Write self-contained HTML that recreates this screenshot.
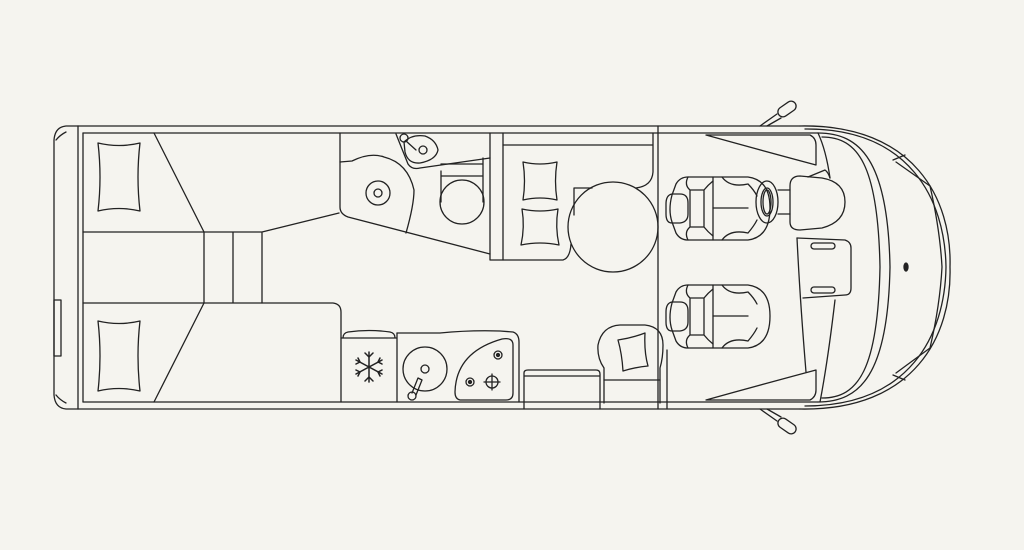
<!DOCTYPE html>
<html><head><meta charset="utf-8"><style>
html,body{margin:0;padding:0;background:#f5f4ef;}
svg{display:block}
</style></head><body>
<svg width="1024" height="550" viewBox="0 0 1024 550" xmlns="http://www.w3.org/2000/svg" fill="none" stroke="#222" stroke-width="1.3" stroke-linejoin="round" stroke-linecap="round">
<rect width="1024" height="550" fill="#f5f4ef" stroke="none"/>
<!-- body -->
<path d="M78,126 L800,126 M78,409 L800,409"/>
<path d="M83,133 L818,133 M83,402 L818,402"/>
<path d="M78,126 L78,409 M83,133 L83,402"/>
<path d="M78,126 L66,126 Q55,127 54,140 L54,395 Q55,408 66,409 L78,409"/>
<path d="M56,140 Q60,135 66,132 M56,395 Q60,400 66,403"/>
<rect x="54" y="300" width="7" height="56"/>
<!-- rear bed -->
<path d="M83,232 L204,232 M83,303 L204,303"/>
<path d="M154,133 L204,232 L204,303 L154,402"/>
<path d="M204,232 L262,232 L339,213 M204,303 L262,303 M233,232 L233,303 M262,232 L262,303"/>
<path d="M262,303 L333,303 Q341,304 341,312 L341,402"/>
<path d="M98,143 Q119,148 140,143 Q136,177 140,211 Q119,206 98,211 Q102,177 98,143Z"/>
<path d="M98,321 Q119,326 140,321 Q136,356 140,391 Q119,386 98,391 Q102,356 98,321Z"/>
<!-- bathroom -->
<path d="M340,133 L340,207 Q340,214 348,217 L490,254"/>
<path d="M340,162 L352,161 Q370,152 384,157 Q408,163 414,190 Q414,205 406,233"/>
<circle cx="378" cy="193" r="12"/><circle cx="378" cy="193" r="4"/>
<path d="M396,134 L408,164 Q412,170 420,168 L490,158"/>
<path d="M404,142 Q412,134 425,136 Q436,140 438,150 Q436,160 420,163 Q408,164 405,152 Z"/>
<circle cx="404" cy="138" r="4"/><path d="M406,141 L416,150"/><circle cx="423" cy="150" r="4"/>
<path d="M441,171 L441,202 M483,158 L483,202 M441,164 L483,164 M441,176 L483,176"/>
<circle cx="462" cy="202" r="22"/>
<path d="M490,133 L490,260 L563,260 Q570,258 571,244"/>
<path d="M503,133 L503,260"/>
<!-- dinette -->
<path d="M503,145 L653,145 M653,133 L653,172 Q652,186 636,188"/>
<path d="M574,215 L574,188 L592,188"/>
<circle cx="613" cy="227" r="45"/>
<path d="M523,162 Q540,166 557,162 Q554,181 557,200 Q540,196 523,200 Q526,181 523,162Z"/>
<path d="M522,209 Q540,213 558,209 Q555,227 559,245 Q540,241 521,245 Q525,227 522,209Z"/>
<path d="M658,126 L658,409 M667,350 L667,409"/>
<!-- kitchen -->
<path d="M341,338 L397,338 M397,333 L397,402 M343,338 Q343,333 348,332 Q369,329 390,332 Q395,333 395,338"/>
<path d="M397,333 L440,333 Q470,330 500,331 L513,332 Q519,334 519,342 L519,402"/>
<g stroke-width="1.5">
<path d="M369,352 L369,382 M356,360 L382,374 M356,374 L382,360"/>
<path d="M365,353 L369,357 L373,353 M365,381 L369,377 L373,381 M356,364 L360,362 L358,358 M382,370 L378,372 L380,376 M356,370 L360,372 L358,376 M382,364 L378,362 L380,358"/>
</g>
<circle cx="425" cy="369" r="22"/><circle cx="425" cy="369" r="4"/>
<path d="M418,378 L412,393 M422,380 L416,395 M418,378 L422,380"/><circle cx="412" cy="396" r="4"/>
<path d="M460,400 Q455,399 455,392 Q456,352 502,339 Q513,337 513,345 L513,393 Q513,400 506,400 Z"/>
<circle cx="498" cy="355" r="4"/><circle cx="498" cy="355" r="1.5" fill="#222"/>
<circle cx="470" cy="382" r="4"/><circle cx="470" cy="382" r="1.5" fill="#222"/>
<circle cx="492" cy="382" r="6"/><path d="M484,382 L500,382 M492,374 L492,390"/>
<path d="M524,409 L524,373 Q524,370 528,370 L596,370 Q600,370 600,374 L600,409 M524,376 L600,376"/>
<!-- armchair -->
<path d="M604,403 L604,368 Q597,358 598,345 Q602,326 620,325 L645,325 Q663,327 663,345 Q663,358 660,368 L660,403"/>
<path d="M604,380 L660,380"/>
<path d="M618,340 Q632,338 645,333 Q644,352 648,366 Q636,367 623,371 Q622,354 618,340Z"/>
<!-- cab -->
<path d="M800,126 C915,124 952,200 950,267 C952,335 915,411 800,409"/>
<path d="M805,129 C910,128 945,200 946,267 C945,335 910,406 805,406"/>
<path d="M818,133 C860,133 888,160 890,267 C888,375 860,402 818,402"/>
<path d="M822,137 C858,137 878,165 880,267 C878,370 858,398 822,398"/>
<path d="M818,133 Q826,150 830,178 M835,300 Q828,360 820,402"/>
<path d="M896,162 L930,186 Q940,230 942,267 Q940,305 930,348 L896,373"/>
<path d="M893,160 L905,155 M893,375 L905,380"/>
<ellipse cx="906" cy="267" rx="2" ry="4" fill="#222"/>
<path d="M706,135 L810,135 Q816,138 816,145 L816,165 Q760,150 706,135Z"/>
<path d="M706,400 L810,400 Q816,397 816,390 L816,370 Q760,385 706,400Z"/>
<path d="M800,176 Q790,176 790,186 L790,222 Q790,230 800,230 L822,228 Q845,222 845,202 Q845,182 822,178 Z"/>
<path d="M778,190 L790,190 M778,214 L790,214 M808,177 L825,170 Q828,172 830,178"/>
<ellipse cx="767" cy="202" rx="11" ry="21"/><ellipse cx="767" cy="202" rx="6" ry="14"/><ellipse cx="767" cy="202" rx="4" ry="12"/>
<path d="M797,238 L845,240 Q851,242 851,248 L851,288 Q851,295 845,295 L803,298"/>
<path d="M797,238 Q800,300 806,372"/>
<rect x="811" y="243" width="24" height="6" rx="3"/><rect x="811" y="287" width="24" height="6" rx="3"/>
<!-- seats -->
<g id="seat">
<path d="M688,177 L713,177 L713,240 L688,240 Q680,240 676,233 L672,222 Q668,210 672,195 L676,184 Q680,177 688,177Z"/>
<path d="M672,194 Q666,195 666,204 L666,214 Q666,223 672,223 L680,223 Q688,222 688,214 L688,203 Q688,194 680,194 Z"/>
<path d="M688,177 Q684,185 690,190 L704,190 Q708,185 713,181 M688,240 Q684,232 690,227 L704,227 Q708,232 713,236 M690,190 L690,227 M704,190 L704,227"/>
<path d="M713,177 L748,177 Q770,180 770,208 Q770,237 748,240 L713,240"/>
<path d="M713,208 L748,208 M722,177 Q730,188 748,184 M722,240 Q730,229 748,233 M748,184 Q754,190 757,196 M748,233 Q754,226 757,220"/>
</g>
<use href="#seat" transform="translate(0,108)"/>
<!-- mirrors -->
<path d="M760,126 L777,114 M767,126 L781,118"/>
<g transform="rotate(-35 787 109)"><rect x="777" y="104" width="20" height="10" rx="5"/></g>
<path d="M760,409 L777,421 M767,409 L781,417"/>
<g transform="rotate(35 787 426)"><rect x="777" y="421" width="20" height="10" rx="5"/></g>
</svg>
</body></html>
